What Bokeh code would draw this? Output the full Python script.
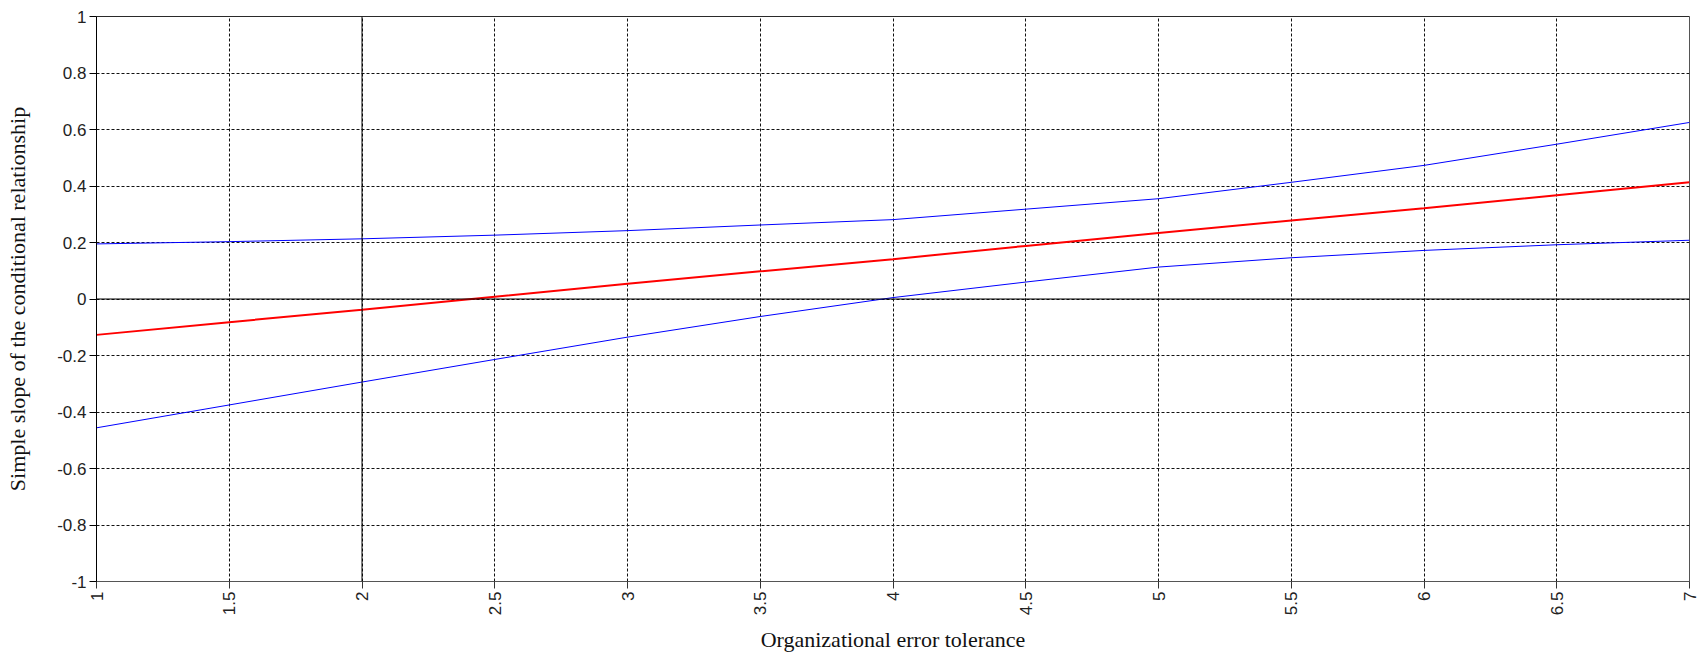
from bokeh.plotting import figure
from bokeh.models import FixedTicker, CustomJSTickFormatter, Span, Range1d
from bokeh.embed import file_html
from bokeh.resources import INLINE
import math

# ---- data ----
x_vals = [1.0, 1.5, 2.0, 2.5, 3.0, 3.5, 4.0, 4.5, 5.0, 5.5, 6.0, 6.5, 7.0]
slope = [-0.127, -0.082, -0.038, 0.008, 0.054, 0.098, 0.141, 0.188, 0.234, 0.278, 0.321, 0.367, 0.413]
upper = [0.195, 0.203, 0.213, 0.226, 0.242, 0.262, 0.281, 0.318, 0.355, 0.413, 0.473, 0.548, 0.625]
lower = [-0.456, -0.375, -0.294, -0.214, -0.135, -0.062, 0.005, 0.060, 0.113, 0.146, 0.172, 0.192, 0.208]
x_ticks = [1, 1.5, 2, 2.5, 3, 3.5, 4, 4.5, 5, 5.5, 6, 6.5, 7]
y_ticks = [-1, -0.8, -0.6, -0.4, -0.2, 0, 0.2, 0.4, 0.6, 0.8, 1]
x_title = "Organizational error tolerance"
y_title = "Simple slope of the conditional relationship"

p = figure(width=1700, height=655, output_backend="svg", toolbar_location=None,
           x_range=Range1d(1, 7), y_range=Range1d(-1, 1),
           min_border_left=96, min_border_right=11, min_border_top=16, min_border_bottom=74)
p.background_fill_color = "white"
p.border_fill_color = "white"
p.outline_line_color = "#555555"
p.outline_line_width = 1

fmt = CustomJSTickFormatter(code="return String(Math.round(tick*10)/10);")

for ax in (p.xaxis[0], p.yaxis[0]):
    ax.formatter = fmt
    ax.major_label_text_font = "Liberation Sans"
    ax.major_label_text_font_size = "17px"
    ax.major_label_text_color = "#222222"
    ax.minor_tick_line_color = None
    ax.major_tick_in = 0
    ax.major_tick_out = 7
    ax.major_label_standoff = 3
    ax.axis_label_text_font = "Liberation Serif"
    ax.axis_label_text_font_size = "22px"
    ax.axis_label_text_font_style = "normal"
    ax.axis_label_text_color = "#111111"

p.xaxis[0].ticker = FixedTicker(ticks=x_ticks)
p.yaxis[0].ticker = FixedTicker(ticks=y_ticks)
p.xaxis[0].major_label_orientation = math.pi / 2
p.xaxis[0].axis_label = x_title
p.yaxis[0].axis_label = y_title
p.xaxis[0].axis_label_standoff = 9
p.yaxis[0].axis_label_standoff = 24
p.xaxis[0].axis_line_color = "#555555"
p.xaxis[0].major_tick_line_color = "#333333"
p.yaxis[0].axis_line_color = "black"
p.yaxis[0].major_tick_line_color = "black"

for g in (p.xgrid[0], p.ygrid[0]):
    g.grid_line_color = "#111111"
    g.grid_line_dash = "3 2"
    g.grid_line_width = 1
p.xgrid[0].ticker = FixedTicker(ticks=x_ticks)
p.ygrid[0].ticker = FixedTicker(ticks=y_ticks)

p.add_layout(Span(location=0, dimension="width", line_color="black", line_width=1))
p.add_layout(Span(location=2, dimension="height", line_color="black", line_width=1))
p.add_layout(Span(location=1, dimension="width", line_color="black", line_width=1))

p.line(x_vals, upper, line_color="#0000FF", line_width=1)
p.line(x_vals, lower, line_color="#0000FF", line_width=1)
p.line(x_vals, slope, line_color="#FF0000", line_width=2)

open("out.html", "w").write(file_html(p, INLINE))
